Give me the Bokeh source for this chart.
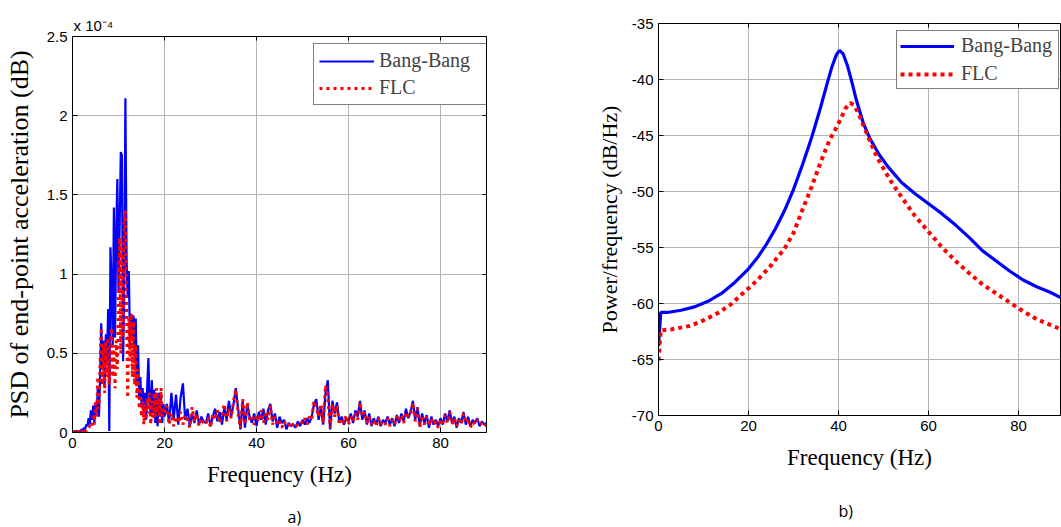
import numpy as np
from bokeh.plotting import figure
from bokeh.layouts import row, column
from bokeh.models import (Range1d, FixedTicker, LinearAxis, Legend, Title,
                          LegendItem, CustomJSTickFormatter)
from bokeh.embed import file_html
from bokeh.resources import INLINE

# ---------------- data: panel a) PSD of end-point acceleration (x 1e-4) ----------------
freq_a = np.concatenate([np.arange(0, 20, 0.25), np.arange(20, 90.001, 0.5)])

bang_a_low = [
    0.00, 0.01, 0.00, 0.01, 0.00, 0.01, 0.00, 0.01,
    0.02, 0.01, 0.03, 0.02, 0.05, 0.04, 0.09, 0.05,
    0.14, 0.08, 0.17, 0.06, 0.19, 0.12, 0.28, 0.10,
    0.35, 0.69, 0.40, 0.58, 0.30, 0.62, 0.45, 0.78,
    0.01, 1.17, 0.95, 0.55, 1.42, 0.60, 1.26, 1.60,
    0.90, 1.30, 1.77, 1.75, 0.45, 0.90, 2.11, 1.10,
    0.85, 1.02, 0.55, 0.75, 0.60, 0.74, 0.45, 0.72,
    0.30, 0.55, 0.22, 0.35, 0.18, 0.28, 0.12, 0.25,
    0.08, 0.30, 0.47, 0.20, 0.12, 0.33, 0.12, 0.27,
    0.06, 0.22, 0.04, 0.25, 0.10, 0.22, 0.06, 0.18,
]
bang_a_high = [
    0.10, 0.18, 0.06, 0.25, 0.08, 0.24, 0.05, 0.22, 0.31, 0.08,
    0.15, 0.04, 0.12, 0.06, 0.14, 0.05, 0.10, 0.07, 0.06, 0.12,
    0.04, 0.10, 0.15, 0.07, 0.13, 0.05, 0.16, 0.08, 0.20, 0.10,
    0.18, 0.28, 0.15, 0.02, 0.20, 0.03, 0.18, 0.10, 0.06, 0.12,
    0.04, 0.13, 0.08, 0.15, 0.05, 0.14, 0.18, 0.07, 0.12, 0.03,
    0.10, 0.06, 0.08, 0.02, 0.06, 0.04, 0.05, 0.03, 0.07, 0.04,
    0.08, 0.05, 0.09, 0.06, 0.10, 0.18, 0.21, 0.08, 0.16, 0.05,
    0.25, 0.33, 0.02, 0.20, 0.12, 0.19, 0.06, 0.10, 0.05, 0.09,
    0.07, 0.12, 0.06, 0.14, 0.10, 0.20, 0.08, 0.14, 0.05, 0.12,
    0.04, 0.09, 0.05, 0.10, 0.04, 0.08, 0.06, 0.10, 0.05, 0.09,
    0.04, 0.11, 0.06, 0.12, 0.07, 0.15, 0.09, 0.13, 0.20, 0.08,
    0.16, 0.04, 0.12, 0.06, 0.11, 0.03, 0.10, 0.05, 0.08, 0.04,
    0.09, 0.05, 0.12, 0.07, 0.14, 0.06, 0.10, 0.03, 0.09, 0.06,
    0.13, 0.05, 0.10, 0.04, 0.08, 0.06, 0.09, 0.04, 0.07, 0.05,
    0.06,
]
flc_a_low = [
    0.00, 0.01, 0.00, 0.00, 0.01, 0.00, 0.01, 0.00,
    0.01, 0.00, 0.02, 0.01, 0.01, 0.03, 0.03, 0.04,
    0.04, 0.03, 0.12, 0.05, 0.20, 0.10, 0.35, 0.15,
    0.45, 0.66, 0.30, 0.55, 0.25, 0.58, 0.35, 0.60,
    0.30, 0.55, 0.66, 0.35, 0.55, 0.28, 0.58, 0.40,
    0.85, 1.23, 0.50, 1.20, 0.60, 1.35, 1.40, 0.75,
    0.22, 0.72, 0.45, 0.75, 0.35, 0.70, 0.30, 0.55,
    0.22, 0.40, 0.15, 0.28, 0.10, 0.20, 0.05, 0.18,
    0.08, 0.22, 0.12, 0.25, 0.05, 0.20, 0.08, 0.25,
    0.10, 0.28, 0.12, 0.22, 0.05, 0.28, 0.10, 0.15,
]
flc_a_high = [
    0.12, 0.17, 0.05, 0.12, 0.04, 0.10, 0.06, 0.13, 0.05, 0.11,
    0.08, 0.03, 0.16, 0.07, 0.12, 0.04, 0.09, 0.06, 0.05, 0.10,
    0.03, 0.12, 0.08, 0.14, 0.06, 0.11, 0.18, 0.07, 0.15, 0.09,
    0.20, 0.27, 0.12, 0.03, 0.21, 0.05, 0.19, 0.08, 0.10, 0.05,
    0.11, 0.07, 0.14, 0.06, 0.12, 0.08, 0.17, 0.05, 0.10, 0.06,
    0.08, 0.03, 0.07, 0.04, 0.05, 0.03, 0.06, 0.04, 0.05, 0.07,
    0.06, 0.09, 0.05, 0.10, 0.08, 0.20, 0.15, 0.10, 0.18, 0.06,
    0.30, 0.22, 0.03, 0.18, 0.10, 0.17, 0.05, 0.09, 0.06, 0.11,
    0.05, 0.10, 0.07, 0.12, 0.08, 0.19, 0.10, 0.13, 0.06, 0.10,
    0.05, 0.08, 0.04, 0.09, 0.05, 0.07, 0.05, 0.09, 0.04, 0.08,
    0.05, 0.10, 0.07, 0.11, 0.06, 0.13, 0.10, 0.12, 0.19, 0.07,
    0.15, 0.03, 0.11, 0.05, 0.10, 0.04, 0.09, 0.05, 0.07, 0.03,
    0.08, 0.06, 0.11, 0.06, 0.13, 0.05, 0.09, 0.04, 0.08, 0.05,
    0.12, 0.06, 0.09, 0.03, 0.07, 0.05, 0.08, 0.05, 0.06, 0.04,
    0.05,
]
bang_a = bang_a_low + bang_a_high
flc_a = flc_a_low + flc_a_high

# ---------------- data: panel b) Power/frequency (dB/Hz) ----------------
bang_b_f = [0, 0.5, 2, 5, 8, 11, 14, 17, 20, 22, 24, 26, 28, 30, 32, 34, 36, 37.5,
            38.5, 39.5, 40.2, 41, 42, 43, 44, 45.5, 47, 49, 51, 54, 57, 60, 63, 66,
            69, 72, 75, 78, 81, 84, 87, 90]
bang_b_v = [-63.8, -60.8, -60.8, -60.6, -60.3, -59.8, -59.1, -58.1, -56.9, -55.9,
            -54.7, -53.3, -51.7, -49.8, -47.6, -45.2, -42.5, -40.3, -38.9, -37.8,
            -37.4, -37.7, -38.8, -40.3, -41.9, -43.9, -45.3, -46.7, -47.8, -49.2,
            -50.2, -51.1, -52.0, -53.0, -54.1, -55.3, -56.2, -57.1, -57.9, -58.5,
            -59.0, -59.6]
flc_b_f = [0, 0.5, 3, 7, 10, 13, 16, 19, 22, 25, 28, 30, 32, 34, 36, 38, 39.5, 40.5,
           41.5, 42.6, 43.5, 44.5, 46.3, 48.5, 51.5, 54, 57, 60, 63, 66, 69, 72, 75,
           78, 81, 84, 87, 90]
flc_b_v = [-65.1, -62.4, -62.3, -62.0, -61.5, -60.9, -60.1, -59.0, -57.9, -56.6,
           -55.1, -53.7, -51.6, -49.6, -47.4, -45.4, -44.3, -43.5, -42.6, -42.1,
           -42.3, -43.1, -44.85, -46.9, -49.0, -50.5, -52.2, -53.6, -55.0, -56.2,
           -57.3, -58.3, -59.1, -59.9, -60.7, -61.4, -61.9, -62.4]

x_ticks = [0, 20, 40, 60, 80]
ya_ticks = [0, 0.5, 1, 1.5, 2, 2.5]
yb_ticks = [-70, -65, -60, -55, -50, -45, -40, -35]

SERIF = "Liberation Serif"
SANS = "Liberation Sans"
GRID = "#b4b4b4"


def style(p, xt, yt, ylabel, ylabel_size, ylabel_standoff):
    p.background_fill_color = "white"
    p.border_fill_color = "white"
    p.outline_line_color = "black"
    p.outline_line_width = 1
    p.xaxis.ticker = FixedTicker(ticks=xt)
    p.yaxis.ticker = FixedTicker(ticks=yt)
    p.xgrid.ticker = FixedTicker(ticks=xt)
    p.ygrid.ticker = FixedTicker(ticks=yt)
    p.grid.grid_line_color = GRID
    p.grid.grid_line_width = 1
    for ax in (p.xaxis[0], p.yaxis[0]):
        ax.major_tick_in = 5
        ax.major_tick_out = 0
        ax.minor_tick_line_color = None
        ax.axis_line_color = "black"
        ax.major_tick_line_color = "black"
        ax.major_label_text_font = SANS
        ax.major_label_text_font_size = "15px"
        ax.major_label_text_color = "black"
        ax.major_label_standoff = 5
        ax.axis_label_text_font = SERIF
        ax.axis_label_text_font_size = "23px"
        ax.axis_label_text_font_style = "normal"
        ax.axis_label_text_color = "black"
    p.yaxis[0].formatter = CustomJSTickFormatter(code="return String(tick)")
    p.yaxis[0].axis_label_text_font_size = ylabel_size
    p.xaxis[0].axis_label = "Frequency (Hz)"
    p.yaxis[0].axis_label = ylabel
    p.xaxis[0].axis_label_standoff = 11
    p.yaxis[0].axis_label_standoff = ylabel_standoff


def extra_axis(p, ticks, side):
    ax = LinearAxis(ticker=FixedTicker(ticks=ticks),
                    formatter=CustomJSTickFormatter(code="return ''"),
                    major_tick_in=4, major_tick_out=0, minor_tick_line_color=None,
                    axis_line_color=None, major_label_text_font_size="1px",
                    major_label_standoff=0)
    p.add_layout(ax, side)


def caption(p, text, offset, gap):
    # blank spacer below the x axis, then the panel caption
    p.add_layout(Title(text=" ", text_font_size="2px", standoff=gap), "below")
    p.add_layout(Title(text=text, align="left", offset=offset, standoff=0,
                       text_font="Open Sans", text_font_size="16px",
                       text_font_style="normal", text_color="black"), "below")


# ---------------- panel a ----------------
p1 = figure(width=530, height=527, x_range=Range1d(0, 90), y_range=Range1d(0, 2.5),
            output_backend="svg", toolbar_location=None,
            min_border_left=72, min_border_right=44, min_border_top=36, min_border_bottom=95)
style(p1, x_ticks, ya_ticks, "PSD of end-point acceleration (dB)", "26px", 10)
extra_axis(p1, x_ticks, "above")
extra_axis(p1, ya_ticks, "right")

ra1 = p1.line(freq_a, bang_a, line_color="#0000ff", line_width=2.2)
ra2 = p1.line(freq_a, flc_a, line_color="#ff0000", line_width=3, line_dash="3 4")

leg1 = Legend(items=[LegendItem(label="Bang-Bang", renderers=[ra1]),
                     LegendItem(label="FLC", renderers=[ra2])],
              location=(241, 327), margin=0, padding=5, spacing=4,
              glyph_width=55, glyph_height=20, label_height=20, label_width=102,
              label_standoff=5,
              label_text_font=SERIF, label_text_font_size="20px",
              border_line_color="black", border_line_width=1,
              background_fill_color="white", background_fill_alpha=1)
p1.add_layout(leg1)

p1.add_layout(Title(text="x 10\u207b\u2074", align="left", offset=1, standoff=6,
                    text_font=SANS, text_font_size="15px", text_font_style="normal",
                    text_color="black"), "above")
caption(p1, "a)", 215, 10)

# ---------------- panel b ----------------
p2 = figure(width=531, height=527, x_range=Range1d(0, 89.3), y_range=Range1d(-70, -35),
            output_backend="svg", toolbar_location=None,
            min_border_left=128, min_border_right=1, min_border_top=23, min_border_bottom=112)
style(p2, x_ticks, yb_ticks, "Power/frequency (dB/Hz)", "22px", 7)
extra_axis(p2, x_ticks, "above")

rb1 = p2.line(bang_b_f, bang_b_v, line_color="#0000ff", line_width=3.2)
rb2 = p2.line(flc_b_f, flc_b_v, line_color="#ff0000", line_width=4, line_dash="4 4")

leg2 = Legend(items=[LegendItem(label="Bang-Bang", renderers=[rb1]),
                     LegendItem(label="FLC", renderers=[rb2])],
              location=(238, 326), margin=0, padding=3, spacing=5,
              glyph_width=54, glyph_height=20, label_height=20, label_width=94,
              label_standoff=7,
              label_text_font=SERIF, label_text_font_size="20px",
              border_line_color="black", border_line_width=1,
              background_fill_color="white", background_fill_alpha=1)
p2.add_layout(leg2)

caption(p2, "b)", 180, 21)

layout = row(p1, column(p2))
open("out.html", "w").write(file_html(layout, INLINE))
